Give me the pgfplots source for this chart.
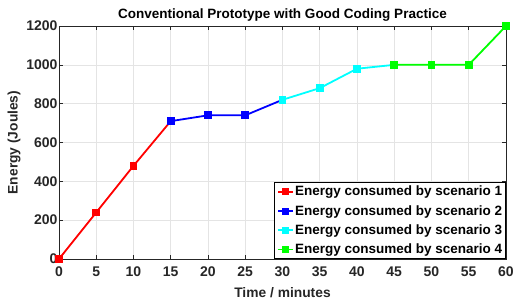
\documentclass[border=0pt]{standalone}
\usepackage{fontspec}
\setmainfont{Liberation Sans}[BoldFont={Liberation Sans Bold}]
\usepackage{pgfplots}
\pgfplotsset{compat=1.18}
\definecolor{gridc}{RGB}{228,228,228}
\definecolor{cR}{RGB}{255,0,0}
\definecolor{cB}{RGB}{0,0,255}
\definecolor{cC}{RGB}{0,255,255}
\definecolor{cG}{RGB}{0,255,0}
\definecolor{tk}{RGB}{38,38,38}
\begin{document}
\begin{tikzpicture}
\begin{axis}[
  name=ax,
  scale only axis,
  width=447pt, height=233pt,
  xmin=0, xmax=60, ymin=0, ymax=1200,
  xtick={0,5,...,60}, ytick={0,200,...,1200},
  tick align=inside, tick pos=both,
  major tick length=4pt,
  grid=major, major grid style={gridc, line width=0.6pt},
  axis line style={tk, line width=0.8pt},
  tick style={tk, line width=0.6pt},
  /pgf/number format/assume math mode=true,
  /pgf/number format/1000 sep={},
  ticklabel style={font=\fontsize{14}{15}\selectfont\bfseries, text=tk},
  xticklabel style={yshift=-4pt},
  yticklabel style={xshift=2pt},
  title={\textbf{Conventional Prototype with Good Coding Practice}},
  title style={font=\fontsize{13.5}{14}\selectfont\bfseries, yshift=-5pt},
  xlabel={\textbf{Time / minutes}}, ylabel={\textbf{Energy (Joules)}},
  label style={font=\fontsize{13.8}{14}\selectfont\bfseries, text=tk},
  xlabel style={yshift=-4pt},
  ylabel style={yshift=-1pt},
  legend style={at={(1,0)}, anchor=south east, font=\fontsize{13.5}{15}\selectfont\bfseries, draw=black, line width=0.8pt, inner sep=2.5pt, row sep=6pt, nodes={inner sep=1pt}, cells={anchor=west}},
  legend image code/.code={\draw[#1, line width=1.8pt] (0pt,0pt) -- (15pt,0pt); \draw[#1, mark repeat=1, line width=0.5pt] plot coordinates {(7.5pt,0pt)};},
  every axis plot/.append style={line width=1.8pt, mark=square*, mark size=3pt, mark options={line width=0.5pt}},
]
\addplot[cR, mark options={fill=cR}] coordinates {(0,0) (5,240) (10,480) (15,710)};
\addlegendentry{\textbf{Energy consumed by scenario 1}}
\addplot[cB, mark options={fill=cB}] coordinates {(15,710) (20,740) (25,740) (30,820)};
\addlegendentry{\textbf{Energy consumed by scenario 2}}
\addplot[cC, mark options={fill=cC}] coordinates {(30,820) (35,880) (40,980) (45,1000)};
\addlegendentry{\textbf{Energy consumed by scenario 3}}
\addplot[cG, mark options={fill=cG}] coordinates {(45,1000) (50,1000) (55,1000) (60,1200)};
\addlegendentry{\textbf{Energy consumed by scenario 4}}
\end{axis}
\pgfresetboundingbox
\path[use as bounding box] (ax.south west) ++(-59pt,-42pt) rectangle ++(515pt,301pt);
\end{tikzpicture}
\end{document}
